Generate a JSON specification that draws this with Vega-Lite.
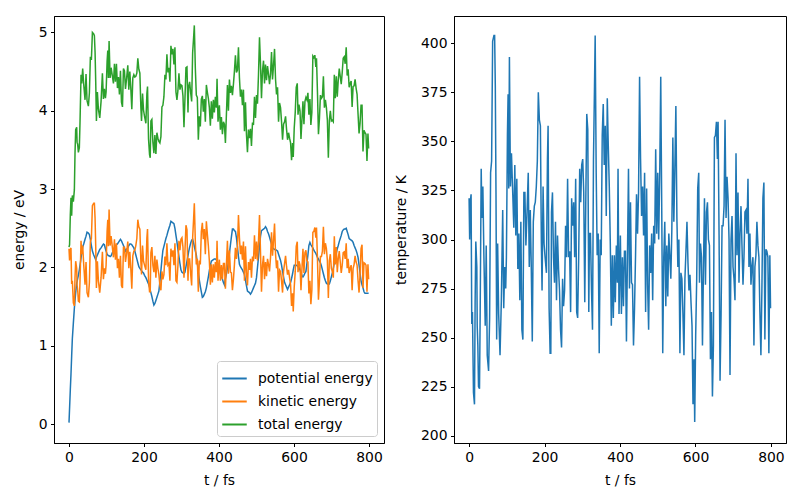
{
"$schema": "https://vega.github.io/schema/vega-lite/v6.json",
"background": "white",
"padding": {"left": 11, "top": 15, "right": 10, "bottom": 5},
"spacing": 8,
"resolve": {"legend": {"color": "independent"}, "scale": {"color": "independent"}},
"config": {
  "font": "DejaVu Sans",
  "view": {"stroke": "black", "strokeWidth": 1},
  "axis": {"grid": false, "domainColor": "black", "tickColor": "black", "labelColor": "black", "titleColor": "black", "labelFontSize": 13.9, "titleFontSize": 13.9, "titleFontWeight": "normal", "tickSize": 3.5, "labelPadding": 3.5, "domainWidth": 1, "tickWidth": 1, "labelFont": "DejaVu Sans", "titleFont": "DejaVu Sans", "labelOverlap": false, "labelBound": false},
  "axisY": {"titlePadding": 12},
  "axisX": {"titlePadding": 10}
},
"datasets": {"md": [
{"t":0,"T":321,"pe":0.02,"ke":2.24,"te":2.26},
{"t":1.5,"T":300,"pe":0.2,"ke":2.09,"te":2.29},
{"t":3.5,"T":320,"pe":0.44,"ke":2.23,"te":2.67},
{"t":5.3,"T":323,"pe":0.64,"ke":2.25,"te":2.89},
{"t":7.1,"T":257,"pe":0.87,"ke":1.79,"te":2.66},
{"t":8.9,"T":263,"pe":1.09,"ke":1.83,"te":2.92},
{"t":11.6,"T":222,"pe":1.29,"ke":1.55,"te":2.84},
{"t":14.3,"T":216,"pe":1.48,"ke":1.51,"te":2.99},
{"t":16,"T":268,"pe":1.58,"ke":1.87,"te":3.45},
{"t":17.8,"T":299,"pe":1.68,"ke":2.08,"te":3.76},
{"t":20.5,"T":286,"pe":1.8,"ke":1.99,"te":3.79},
{"t":21.5,"T":256,"pe":1.82,"ke":1.78,"te":3.6},
{"t":23.2,"T":246,"pe":1.86,"ke":1.71,"te":3.57},
{"t":25,"T":225,"pe":1.9,"ke":1.57,"te":3.47},
{"t":27.6,"T":224,"pe":1.97,"ke":1.56,"te":3.53},
{"t":29.4,"T":263,"pe":2.03,"ke":1.83,"te":3.86},
{"t":32.1,"T":336,"pe":2.12,"ke":2.34,"te":4.46},
{"t":33.9,"T":311,"pe":2.18,"ke":2.17,"te":4.35},
{"t":36.5,"T":327,"pe":2.26,"ke":2.28,"te":4.54},
{"t":39.2,"T":292,"pe":2.3,"ke":2.04,"te":4.34},
{"t":42.8,"T":256,"pe":2.36,"ke":1.78,"te":4.14},
{"t":45.4,"T":297,"pe":2.4,"ke":2.07,"te":4.47},
{"t":48.1,"T":241,"pe":2.45,"ke":1.68,"te":4.13},
{"t":51.7,"T":233,"pe":2.44,"ke":1.62,"te":4.06},
{"t":54.4,"T":260,"pe":2.42,"ke":1.81,"te":4.23},
{"t":57,"T":334,"pe":2.36,"ke":2.33,"te":4.69},
{"t":59.7,"T":340,"pe":2.28,"ke":2.37,"te":4.65},
{"t":62.4,"T":401,"pe":2.21,"ke":2.79,"te":5.0},
{"t":65.9,"T":404,"pe":2.16,"ke":2.82,"te":4.98},
{"t":67.7,"T":404,"pe":2.14,"ke":2.82,"te":4.96},
{"t":69.5,"T":378,"pe":2.12,"ke":2.63,"te":4.75},
{"t":71.3,"T":324,"pe":2.1,"ke":2.26,"te":4.36},
{"t":73.1,"T":249,"pe":2.13,"ke":1.74,"te":3.87},
{"t":75.7,"T":298,"pe":2.16,"ke":2.08,"te":4.24},
{"t":78.4,"T":262,"pe":2.19,"ke":1.83,"te":4.02},
{"t":82,"T":241,"pe":2.23,"ke":1.68,"te":3.91},
{"t":85.5,"T":269,"pe":2.25,"ke":1.87,"te":4.12},
{"t":89.1,"T":315,"pe":2.28,"ke":2.2,"te":4.48},
{"t":91.8,"T":265,"pe":2.3,"ke":1.85,"te":4.15},
{"t":94.4,"T":286,"pe":2.29,"ke":1.99,"te":4.28},
{"t":97.1,"T":275,"pe":2.24,"ke":1.92,"te":4.16},
{"t":98.9,"T":291,"pe":2.21,"ke":2.03,"te":4.24},
{"t":101.6,"T":353,"pe":2.17,"ke":2.46,"te":4.63},
{"t":103.4,"T":374,"pe":2.16,"ke":2.61,"te":4.77},
{"t":105.1,"T":326,"pe":2.15,"ke":2.27,"te":4.42},
{"t":106.9,"T":393,"pe":2.15,"ke":2.74,"te":4.89},
{"t":109.6,"T":327,"pe":2.14,"ke":2.28,"te":4.42},
{"t":112.3,"T":344,"pe":2.15,"ke":2.4,"te":4.55},
{"t":115.8,"T":323,"pe":2.19,"ke":2.25,"te":4.44},
{"t":118.5,"T":306,"pe":2.22,"ke":2.13,"te":4.35},
{"t":121.2,"T":338,"pe":2.24,"ke":2.36,"te":4.6},
{"t":123.8,"T":302,"pe":2.27,"ke":2.1,"te":4.37},
{"t":126.5,"T":331,"pe":2.29,"ke":2.31,"te":4.6},
{"t":129.2,"T":285,"pe":2.3,"ke":1.99,"te":4.29},
{"t":131.9,"T":303,"pe":2.32,"ke":2.11,"te":4.43},
{"t":134.5,"T":269,"pe":2.34,"ke":1.87,"te":4.21},
{"t":137.2,"T":309,"pe":2.36,"ke":2.15,"te":4.51},
{"t":139.9,"T":254,"pe":2.34,"ke":1.77,"te":4.11},
{"t":142.6,"T":249,"pe":2.31,"ke":1.74,"te":4.05},
{"t":145.2,"T":324,"pe":2.28,"ke":2.26,"te":4.54},
{"t":147.9,"T":324,"pe":2.25,"ke":2.26,"te":4.51},
{"t":150.6,"T":297,"pe":2.21,"ke":2.07,"te":4.28},
{"t":153.3,"T":312,"pe":2.23,"ke":2.17,"te":4.4},
{"t":156.8,"T":334,"pe":2.25,"ke":2.33,"te":4.58},
{"t":159.5,"T":286,"pe":2.28,"ke":1.99,"te":4.27},
{"t":162.2,"T":315,"pe":2.3,"ke":2.2,"te":4.5},
{"t":164.8,"T":286,"pe":2.3,"ke":1.99,"te":4.29},
{"t":167.5,"T":248,"pe":2.29,"ke":1.73,"te":4.02},
{"t":170.2,"T":309,"pe":2.27,"ke":2.15,"te":4.42},
{"t":172.9,"T":317,"pe":2.25,"ke":2.21,"te":4.46},
{"t":175.5,"T":319,"pe":2.21,"ke":2.22,"te":4.43},
{"t":178.2,"T":327,"pe":2.16,"ke":2.28,"te":4.44},
{"t":180.9,"T":340,"pe":2.11,"ke":2.37,"te":4.48},
{"t":183.5,"T":375,"pe":2.06,"ke":2.61,"te":4.67},
{"t":186.3,"T":361,"pe":2.01,"ke":2.52,"te":4.53},
{"t":189,"T":358,"pe":1.99,"ke":2.49,"te":4.48},
{"t":191.6,"T":298,"pe":1.97,"ke":2.08,"te":4.05},
{"t":193.4,"T":274,"pe":1.96,"ke":1.91,"te":3.87},
{"t":196.1,"T":327,"pe":1.94,"ke":2.28,"te":4.22},
{"t":198.7,"T":298,"pe":1.93,"ke":2.08,"te":4.01},
{"t":201.4,"T":291,"pe":1.9,"ke":2.03,"te":3.93},
{"t":205,"T":283,"pe":1.87,"ke":1.97,"te":3.84},
{"t":207.7,"T":341,"pe":1.84,"ke":2.38,"te":4.22},
{"t":209.4,"T":358,"pe":1.82,"ke":2.49,"te":4.31},
{"t":212.1,"T":265,"pe":1.79,"ke":1.85,"te":3.64},
{"t":214.8,"T":242,"pe":1.75,"ke":1.69,"te":3.44},
{"t":216.6,"T":242,"pe":1.71,"ke":1.69,"te":3.4},
{"t":218.4,"T":314,"pe":1.68,"ke":2.19,"te":3.87},
{"t":221,"T":324,"pe":1.63,"ke":2.26,"te":3.89},
{"t":223.7,"T":291,"pe":1.57,"ke":2.03,"te":3.6},
{"t":226.4,"T":278,"pe":1.52,"ke":1.94,"te":3.46},
{"t":229,"T":309,"pe":1.54,"ke":2.15,"te":3.69},
{"t":231.7,"T":269,"pe":1.58,"ke":1.87,"te":3.45},
{"t":234.4,"T":302,"pe":1.62,"ke":2.1,"te":3.72},
{"t":237.1,"T":285,"pe":1.66,"ke":1.99,"te":3.65},
{"t":239.7,"T":274,"pe":1.7,"ke":1.91,"te":3.61},
{"t":242.4,"T":254,"pe":1.82,"ke":1.77,"te":3.59},
{"t":245.1,"T":245,"pe":1.96,"ke":1.71,"te":3.67},
{"t":247.8,"T":280,"pe":2.1,"ke":1.95,"te":4.05},
{"t":250.4,"T":266,"pe":2.22,"ke":1.85,"te":4.07},
{"t":253.1,"T":274,"pe":2.27,"ke":1.91,"te":4.18},
{"t":255.8,"T":307,"pe":2.32,"ke":2.14,"te":4.46},
{"t":258.4,"T":291,"pe":2.37,"ke":2.03,"te":4.4},
{"t":261.1,"T":331,"pe":2.41,"ke":2.31,"te":4.72},
{"t":263.8,"T":291,"pe":2.46,"ke":2.03,"te":4.49},
{"t":266.5,"T":294,"pe":2.5,"ke":2.05,"te":4.55},
{"t":269.1,"T":263,"pe":2.54,"ke":1.83,"te":4.37},
{"t":271.8,"T":321,"pe":2.59,"ke":2.24,"te":4.83},
{"t":274.5,"T":307,"pe":2.58,"ke":2.14,"te":4.72},
{"t":277.2,"T":319,"pe":2.57,"ke":2.22,"te":4.79},
{"t":279.8,"T":291,"pe":2.56,"ke":2.03,"te":4.59},
{"t":282.5,"T":331,"pe":2.5,"ke":2.31,"te":4.81},
{"t":285.2,"T":263,"pe":2.41,"ke":1.83,"te":4.24},
{"t":287.8,"T":260,"pe":2.33,"ke":1.81,"te":4.14},
{"t":290.5,"T":291,"pe":2.23,"ke":2.03,"te":4.26},
{"t":293.2,"T":336,"pe":2.14,"ke":2.34,"te":4.48},
{"t":295.9,"T":319,"pe":2.05,"ke":2.22,"te":4.27},
{"t":298.5,"T":338,"pe":1.97,"ke":2.36,"te":4.33},
{"t":301.2,"T":341,"pe":1.94,"ke":2.38,"te":4.32},
{"t":303.9,"T":324,"pe":1.93,"ke":2.26,"te":4.19},
{"t":306.6,"T":268,"pe":1.92,"ke":1.87,"te":3.79},
{"t":309.2,"T":317,"pe":1.94,"ke":2.21,"te":4.15},
{"t":311.9,"T":364,"pe":2.01,"ke":2.54,"te":4.55},
{"t":314.6,"T":356,"pe":2.08,"ke":2.48,"te":4.56},
{"t":317.3,"T":263,"pe":2.15,"ke":1.83,"te":3.98},
{"t":319,"T":303,"pe":2.2,"ke":2.11,"te":4.31},
{"t":321.7,"T":303,"pe":2.26,"ke":2.11,"te":4.37},
{"t":324.4,"T":275,"pe":2.31,"ke":1.92,"te":4.23},
{"t":327.1,"T":254,"pe":2.35,"ke":1.77,"te":4.12},
{"t":329.7,"T":341,"pe":2.36,"ke":2.38,"te":4.74},
{"t":332.4,"T":378,"pe":2.31,"ke":2.63,"te":4.94},
{"t":334.2,"T":404,"pe":2.27,"ke":2.82,"te":5.09},
{"t":336.9,"T":334,"pe":2.21,"ke":2.33,"te":4.54},
{"t":339.5,"T":292,"pe":2.16,"ke":2.04,"te":4.2},
{"t":342.2,"T":303,"pe":2.06,"ke":2.11,"te":4.17},
{"t":344.9,"T":242,"pe":1.94,"ke":1.69,"te":3.63},
{"t":347.5,"T":300,"pe":1.84,"ke":2.09,"te":3.93},
{"t":350.2,"T":292,"pe":1.76,"ke":2.04,"te":3.8},
{"t":352.9,"T":353,"pe":1.69,"ke":2.46,"te":4.15},
{"t":355.6,"T":369,"pe":1.62,"ke":2.57,"te":4.19},
{"t":358.2,"T":338,"pe":1.63,"ke":2.36,"te":3.99},
{"t":360.9,"T":358,"pe":1.66,"ke":2.49,"te":4.15},
{"t":363.6,"T":312,"pe":1.69,"ke":2.17,"te":3.86},
{"t":366.3,"T":372,"pe":1.74,"ke":2.59,"te":4.33},
{"t":368.9,"T":348,"pe":1.81,"ke":2.43,"te":4.24},
{"t":371.6,"T":327,"pe":1.88,"ke":2.28,"te":4.16},
{"t":374.3,"T":298,"pe":1.96,"ke":2.08,"te":4.04},
{"t":377,"T":256,"pe":2.03,"ke":1.78,"te":3.81},
{"t":379.6,"T":292,"pe":2.08,"ke":2.04,"te":4.12},
{"t":382.3,"T":260,"pe":2.09,"ke":1.81,"te":3.9},
{"t":385,"T":292,"pe":2.1,"ke":2.04,"te":4.14},
{"t":387.6,"T":268,"pe":2.11,"ke":1.87,"te":3.98},
{"t":390.3,"T":297,"pe":2.11,"ke":2.07,"te":4.18},
{"t":393,"T":278,"pe":2.1,"ke":1.94,"te":4.04},
{"t":394.8,"T":336,"pe":2.07,"ke":2.34,"te":4.41},
{"t":397.4,"T":262,"pe":2.03,"ke":1.83,"te":3.86},
{"t":401,"T":302,"pe":1.97,"ke":2.1,"te":4.07},
{"t":403.7,"T":262,"pe":1.93,"ke":1.83,"te":3.76},
{"t":406.4,"T":291,"pe":1.89,"ke":2.03,"te":3.92},
{"t":409.1,"T":266,"pe":1.85,"ke":1.85,"te":3.7},
{"t":411.8,"T":294,"pe":1.81,"ke":2.05,"te":3.86},
{"t":414.4,"T":294,"pe":1.78,"ke":2.05,"te":3.83},
{"t":417.1,"T":248,"pe":1.86,"ke":1.73,"te":3.59},
{"t":419.8,"T":292,"pe":1.92,"ke":2.04,"te":3.96},
{"t":422.5,"T":336,"pe":1.99,"ke":2.34,"te":4.33},
{"t":425.1,"T":275,"pe":2.08,"ke":1.92,"te":4.0},
{"t":427.8,"T":319,"pe":2.18,"ke":2.22,"te":4.4},
{"t":430.5,"T":278,"pe":2.29,"ke":1.94,"te":4.23},
{"t":433.1,"T":277,"pe":2.39,"ke":1.93,"te":4.32},
{"t":435.8,"T":246,"pe":2.49,"ke":1.71,"te":4.2},
{"t":438.5,"T":265,"pe":2.49,"ke":1.85,"te":4.34},
{"t":441.2,"T":292,"pe":2.47,"ke":2.04,"te":4.51},
{"t":443.8,"T":323,"pe":2.46,"ke":2.25,"te":4.71},
{"t":446.5,"T":303,"pe":2.38,"ke":2.11,"te":4.49},
{"t":449.2,"T":324,"pe":2.26,"ke":2.26,"te":4.52},
{"t":451.9,"T":383,"pe":2.14,"ke":2.67,"te":4.81},
{"t":454.5,"T":341,"pe":2.04,"ke":2.38,"te":4.42},
{"t":457.2,"T":312,"pe":2.01,"ke":2.17,"te":4.18},
{"t":459.9,"T":327,"pe":1.99,"ke":2.28,"te":4.27},
{"t":462.5,"T":302,"pe":1.97,"ke":2.1,"te":4.07},
{"t":465.2,"T":334,"pe":1.94,"ke":2.33,"te":4.27},
{"t":467.9,"T":263,"pe":1.91,"ke":1.83,"te":3.74},
{"t":470.6,"T":326,"pe":1.84,"ke":2.27,"te":4.11},
{"t":473.2,"T":277,"pe":1.77,"ke":1.93,"te":3.7},
{"t":475.9,"T":254,"pe":1.7,"ke":1.77,"te":3.47},
{"t":478.6,"T":297,"pe":1.69,"ke":2.07,"te":3.76},
{"t":481.3,"T":283,"pe":1.68,"ke":1.97,"te":3.65},
{"t":483.9,"T":303,"pe":1.66,"ke":2.11,"te":3.77},
{"t":486.6,"T":269,"pe":1.68,"ke":1.87,"te":3.55},
{"t":489.3,"T":307,"pe":1.71,"ke":2.14,"te":3.85},
{"t":491.9,"T":298,"pe":1.74,"ke":2.08,"te":3.82},
{"t":494.6,"T":346,"pe":1.77,"ke":2.41,"te":4.18},
{"t":497.3,"T":303,"pe":1.8,"ke":2.11,"te":3.91},
{"t":500,"T":334,"pe":1.87,"ke":2.33,"te":4.2},
{"t":502.6,"T":300,"pe":2.0,"ke":2.09,"te":4.09},
{"t":505.3,"T":334,"pe":2.13,"ke":2.33,"te":4.46},
{"t":508,"T":383,"pe":2.27,"ke":2.67,"te":4.94},
{"t":510.7,"T":314,"pe":2.4,"ke":2.19,"te":4.59},
{"t":513.3,"T":242,"pe":2.47,"ke":1.69,"te":4.16},
{"t":516,"T":291,"pe":2.48,"ke":2.03,"te":4.51},
{"t":518.7,"T":309,"pe":2.49,"ke":2.15,"te":4.64},
{"t":521.4,"T":266,"pe":2.5,"ke":1.85,"te":4.35},
{"t":524,"T":297,"pe":2.52,"ke":2.07,"te":4.59},
{"t":526.7,"T":271,"pe":2.5,"ke":1.89,"te":4.39},
{"t":529.4,"T":303,"pe":2.46,"ke":2.11,"te":4.57},
{"t":532,"T":292,"pe":2.43,"ke":2.04,"te":4.47},
{"t":534.7,"T":280,"pe":2.39,"ke":1.95,"te":4.34},
{"t":537.4,"T":305,"pe":2.34,"ke":2.13,"te":4.47},
{"t":540.1,"T":352,"pe":2.3,"ke":2.45,"te":4.75},
{"t":542.7,"T":309,"pe":2.25,"ke":2.15,"te":4.4},
{"t":545.4,"T":336,"pe":2.24,"ke":2.34,"te":4.58},
{"t":548.1,"T":368,"pe":2.23,"ke":2.56,"te":4.79},
{"t":550.8,"T":311,"pe":2.23,"ke":2.17,"te":4.4},
{"t":553.4,"T":286,"pe":2.22,"ke":1.99,"te":4.21},
{"t":556.1,"T":300,"pe":2.21,"ke":2.09,"te":4.3},
{"t":558.8,"T":242,"pe":2.17,"ke":1.69,"te":3.86},
{"t":561.4,"T":283,"pe":2.13,"ke":1.97,"te":4.1},
{"t":564.1,"T":280,"pe":2.09,"ke":1.95,"te":4.04},
{"t":566.8,"T":262,"pe":2.03,"ke":1.83,"te":3.86},
{"t":569.5,"T":241,"pe":1.95,"ke":1.68,"te":3.63},
{"t":572.1,"T":280,"pe":1.88,"ke":1.95,"te":3.83},
{"t":574.8,"T":294,"pe":1.81,"ke":2.05,"te":3.86},
{"t":577.5,"T":309,"pe":1.78,"ke":2.15,"te":3.93},
{"t":580.2,"T":288,"pe":1.75,"ke":2.01,"te":3.76},
{"t":582.8,"T":274,"pe":1.72,"ke":1.91,"te":3.63},
{"t":585.5,"T":282,"pe":1.75,"ke":1.97,"te":3.72},
{"t":588.2,"T":268,"pe":1.78,"ke":1.87,"te":3.65},
{"t":590.9,"T":256,"pe":1.81,"ke":1.78,"te":3.59},
{"t":593.5,"T":216,"pe":1.86,"ke":1.51,"te":3.37},
{"t":596.2,"T":239,"pe":1.92,"ke":1.67,"te":3.59},
{"t":598,"T":207,"pe":1.97,"ke":1.44,"te":3.41},
{"t":600.6,"T":251,"pe":2.03,"ke":1.75,"te":3.78},
{"t":603.3,"T":280,"pe":2.03,"ke":1.95,"te":3.98},
{"t":606,"T":326,"pe":2.03,"ke":2.27,"te":4.3},
{"t":608.7,"T":334,"pe":2.02,"ke":2.33,"te":4.35},
{"t":610.7,"T":278,"pe":2.01,"ke":1.94,"te":3.95},
{"t":613.3,"T":298,"pe":2.0,"ke":2.08,"te":4.08},
{"t":616,"T":291,"pe":1.97,"ke":2.03,"te":4.0},
{"t":618.6,"T":246,"pe":1.93,"ke":1.71,"te":3.64},
{"t":621.2,"T":285,"pe":1.9,"ke":1.99,"te":3.89},
{"t":623.9,"T":321,"pe":1.88,"ke":2.24,"te":4.12},
{"t":626.5,"T":277,"pe":1.9,"ke":1.93,"te":3.83},
{"t":629.2,"T":314,"pe":1.93,"ke":2.19,"te":4.12},
{"t":631.8,"T":319,"pe":1.95,"ke":2.22,"te":4.17},
{"t":634.4,"T":300,"pe":2.05,"ke":2.09,"te":4.14},
{"t":637.1,"T":297,"pe":2.16,"ke":2.07,"te":4.23},
{"t":639.7,"T":239,"pe":2.28,"ke":1.67,"te":3.95},
{"t":642.4,"T":263,"pe":2.32,"ke":1.83,"te":4.15},
{"t":645,"T":220,"pe":2.29,"ke":1.53,"te":3.82},
{"t":647.6,"T":246,"pe":2.27,"ke":1.71,"te":3.98},
{"t":650.3,"T":352,"pe":2.25,"ke":2.45,"te":4.7},
{"t":652.9,"T":353,"pe":2.22,"ke":2.46,"te":4.68},
{"t":655.6,"T":360,"pe":2.2,"ke":2.51,"te":4.71},
{"t":658.2,"T":341,"pe":2.18,"ke":2.38,"te":4.56},
{"t":660,"T":360,"pe":2.16,"ke":2.51,"te":4.67},
{"t":662.6,"T":302,"pe":2.13,"ke":2.1,"te":4.23},
{"t":665.2,"T":228,"pe":2.11,"ke":1.59,"te":3.7},
{"t":667.9,"T":262,"pe":2.08,"ke":1.83,"te":3.91},
{"t":670.5,"T":307,"pe":2.06,"ke":2.14,"te":4.2},
{"t":673.2,"T":307,"pe":2.02,"ke":2.14,"te":4.16},
{"t":675.8,"T":317,"pe":1.97,"ke":2.21,"te":4.18},
{"t":678.4,"T":361,"pe":1.92,"ke":2.52,"te":4.44},
{"t":681.1,"T":311,"pe":1.87,"ke":2.17,"te":4.04},
{"t":683.7,"T":332,"pe":1.83,"ke":2.31,"te":4.14},
{"t":686.4,"T":321,"pe":1.8,"ke":2.24,"te":4.04},
{"t":689,"T":300,"pe":1.79,"ke":2.09,"te":3.88},
{"t":691.6,"T":231,"pe":1.79,"ke":1.61,"te":3.4},
{"t":694.3,"T":300,"pe":1.79,"ke":2.09,"te":3.88},
{"t":696.9,"T":312,"pe":1.83,"ke":2.17,"te":4.0},
{"t":699.6,"T":286,"pe":1.88,"ke":1.99,"te":3.87},
{"t":702.2,"T":280,"pe":1.93,"ke":1.95,"te":3.88},
{"t":704.8,"T":269,"pe":1.99,"ke":1.87,"te":3.86},
{"t":707.5,"T":344,"pe":2.06,"ke":2.4,"te":4.46},
{"t":710.1,"T":292,"pe":2.12,"ke":2.04,"te":4.16},
{"t":712.8,"T":324,"pe":2.18,"ke":2.26,"te":4.44},
{"t":715.4,"T":278,"pe":2.24,"ke":1.94,"te":4.18},
{"t":718,"T":303,"pe":2.28,"ke":2.11,"te":4.39},
{"t":720.7,"T":317,"pe":2.33,"ke":2.21,"te":4.54},
{"t":723.3,"T":297,"pe":2.37,"ke":2.07,"te":4.44},
{"t":726,"T":277,"pe":2.41,"ke":1.93,"te":4.34},
{"t":728.6,"T":291,"pe":2.46,"ke":2.03,"te":4.49},
{"t":731.2,"T":314,"pe":2.48,"ke":2.19,"te":4.67},
{"t":733.9,"T":315,"pe":2.49,"ke":2.2,"te":4.69},
{"t":736.5,"T":303,"pe":2.49,"ke":2.11,"te":4.6},
{"t":739.2,"T":331,"pe":2.5,"ke":2.31,"te":4.81},
{"t":741.8,"T":286,"pe":2.46,"ke":1.99,"te":4.45},
{"t":744.4,"T":303,"pe":2.42,"ke":2.11,"te":4.53},
{"t":747.1,"T":277,"pe":2.37,"ke":1.93,"te":4.3},
{"t":749.7,"T":286,"pe":2.36,"ke":1.99,"te":4.35},
{"t":752.4,"T":291,"pe":2.35,"ke":2.03,"te":4.38},
{"t":755,"T":246,"pe":2.34,"ke":1.71,"te":4.05},
{"t":757.6,"T":286,"pe":2.32,"ke":1.99,"te":4.31},
{"t":760.3,"T":292,"pe":2.28,"ke":2.04,"te":4.32},
{"t":762.9,"T":309,"pe":2.25,"ke":2.15,"te":4.4},
{"t":765.6,"T":297,"pe":2.22,"ke":2.07,"te":4.29},
{"t":768.2,"T":291,"pe":2.18,"ke":2.03,"te":4.21},
{"t":770.8,"T":263,"pe":2.13,"ke":1.83,"te":3.96},
{"t":773.5,"T":241,"pe":2.03,"ke":1.68,"te":3.71},
{"t":776.1,"T":274,"pe":1.93,"ke":1.91,"te":3.84},
{"t":778.8,"T":321,"pe":1.83,"ke":2.24,"te":4.07},
{"t":781.4,"T":329,"pe":1.78,"ke":2.29,"te":4.07},
{"t":784,"T":249,"pe":1.74,"ke":1.74,"te":3.48},
{"t":786.7,"T":295,"pe":1.69,"ke":2.06,"te":3.75},
{"t":789.3,"T":294,"pe":1.67,"ke":2.05,"te":3.72},
{"t":792,"T":291,"pe":1.67,"ke":2.03,"te":3.7},
{"t":794.6,"T":242,"pe":1.67,"ke":1.69,"te":3.36},
{"t":797.2,"T":292,"pe":1.67,"ke":2.04,"te":3.71},
{"t":799,"T":265,"pe":1.67,"ke":1.85,"te":3.52}
]},
"hconcat": [
  {
    "width": 330, "height": 427,
    "data": {"name": "md"},
    "layer": [
      {"mark": {"type": "line", "strokeWidth": 1.5},
       "encoding": {
         "x": {"field": "t", "type": "quantitative", "scale": {"domain": [-40, 840], "nice": false, "zero": false}, "axis": {"values": [0, 200, 400, 600, 800], "format": "d", "title": "t / fs"}},
         "y": {"field": "pe", "type": "quantitative", "scale": {"domain": [-0.24, 5.21], "nice": false, "zero": false}, "axis": {"values": [0, 1, 2, 3, 4, 5], "format": "d", "title": "energy / eV"}},
         "color": {"datum": "potential energy", "type": "nominal",
           "scale": {"domain": ["potential energy", "kinetic energy", "total energy"], "range": ["#1f77b4", "#ff7f0e", "#2ca02c"]},
           "legend": {"orient": "bottom-right", "offset": 7, "title": null, "symbolType": "stroke", "symbolStrokeWidth": 2, "symbolSize": 600, "labelFontSize": 13.9, "labelColor": "black", "labelOffset": 10, "strokeColor": "#cccccc", "fillColor": "white", "padding": 4, "cornerRadius": 3, "rowPadding": 2, "labelLimit": 300}}
       }},
      {"mark": {"type": "line", "strokeWidth": 1.5},
       "encoding": {
         "x": {"field": "t", "type": "quantitative"},
         "y": {"field": "ke", "type": "quantitative", "axis": {"title": "energy / eV"}},
         "color": {"datum": "kinetic energy", "type": "nominal"}
       }},
      {"mark": {"type": "line", "strokeWidth": 1.5},
       "encoding": {
         "x": {"field": "t", "type": "quantitative"},
         "y": {"field": "te", "type": "quantitative", "axis": {"title": "energy / eV"}},
         "color": {"datum": "total energy", "type": "nominal"}
       }}
    ]
  },
  {
    "width": 332, "height": 427,
    "data": {"name": "md"},
    "mark": {"type": "line", "strokeWidth": 1.5, "color": "#1f77b4"},
    "encoding": {
      "x": {"field": "t", "type": "quantitative", "scale": {"domain": [-40, 840], "nice": false, "zero": false}, "axis": {"values": [0, 200, 400, 600, 800], "format": "d", "title": "t / fs"}},
      "y": {"field": "T", "type": "quantitative", "scale": {"domain": [196.3, 413.9], "nice": false, "zero": false}, "axis": {"values": [200, 225, 250, 275, 300, 325, 350, 375, 400], "format": "d", "title": "temperature / K"}}
    }
  }
]
}
